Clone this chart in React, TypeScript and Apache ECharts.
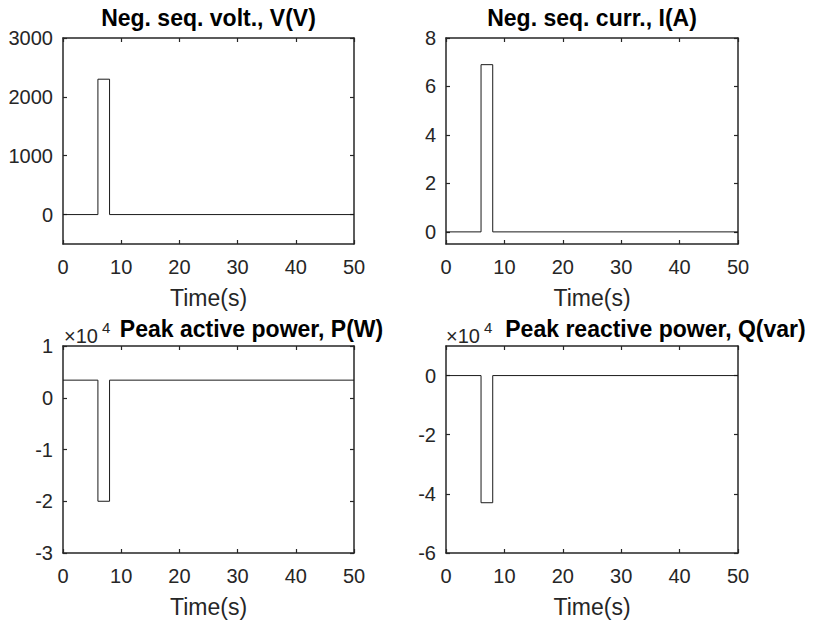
import React, { useEffect, useRef } from 'react';
import * as echarts from 'echarts';

// ---- data ----
const timeS = [0, 6, 6, 8, 8, 50];
const negSeqVolt = [0, 0, 2300, 2300, 0, 0];
const negSeqCurr = [0, 0, 6.9, 6.9, 0, 0];
const peakActiveP = [3400, 3400, -20000, -20000, 3400, 3400];
const peakReactiveQ = [0, 0, -43000, -43000, 0, 0];

const xTicks = [0, 10, 20, 30, 40, 50];
const voltTicks = [0, 1000, 2000, 3000];
const currTicks = [0, 2, 4, 6, 8];
const pTicks = [-30000, -20000, -10000, 0, 10000];
const qTicks = [-60000, -40000, -20000, 0];

const titles = [
  'Neg. seq. volt., V(V)',
  'Neg. seq. curr., I(A)',
  'Peak active power, P(W)',
  'Peak reactive power, Q(var)',
];
const xLabel = 'Time(s)';

const FONT = '"Liberation Sans", Arial, Helvetica, sans-serif';
const AX = '#262626';

const panels = [
  { grid: { left: 63, top: 38, width: 291, height: 206 }, values: negSeqVolt, yMin: -500, yMax: 3000, yTicks: voltTicks, div: 1, title: titles[0], tx: 208.5, ty: 18, exp: null as null | { x: number; y: number } },
  { grid: { left: 446, top: 38, width: 292, height: 206 }, values: negSeqCurr, yMin: -0.5, yMax: 8, yTicks: currTicks, div: 1, title: titles[1], tx: 592, ty: 18, exp: null },
  { grid: { left: 63, top: 346, width: 291, height: 207 }, values: peakActiveP, yMin: -30000, yMax: 10000, yTicks: pTicks, div: 10000, title: titles[2], tx: 251.5, ty: 329, exp: { x: 64, y: 336 } },
  { grid: { left: 446, top: 346, width: 292, height: 207 }, values: peakReactiveQ, yMin: -60000, yMax: 10000, yTicks: qTicks, div: 10000, title: titles[3], tx: 655.5, ty: 329, exp: { x: 446, y: 336 } },
];

function buildOption() {
  const grid: any[] = [];
  const xAxis: any[] = [];
  const yAxis: any[] = [];
  const series: any[] = [];
  const graphic: any[] = [];

  panels.forEach((p, i) => {
    grid.push({ ...p.grid, containLabel: false });
    const line = { show: true, onZero: false, lineStyle: { color: AX, width: 1.5 } };
    const tick = { show: true, inside: true, length: 4, lineStyle: { color: AX, width: 1.2 } };
    // bottom x
    xAxis.push({
      type: 'value', gridIndex: i, position: 'bottom', min: 0, max: 50, interval: 10,
      axisLine: line, axisTick: { ...tick, customValues: xTicks },
      axisLabel: { show: true, customValues: xTicks, margin: 13, fontSize: 20, color: AX, fontFamily: FONT },
      splitLine: { show: false },
      name: xLabel, nameLocation: 'middle', nameGap: 42,
      nameTextStyle: { fontSize: 23, color: AX, fontFamily: FONT },
    });
    // top x (box + mirrored ticks)
    xAxis.push({
      type: 'value', gridIndex: i, position: 'top', min: 0, max: 50, interval: 10,
      axisLine: line, axisTick: { ...tick, customValues: xTicks },
      axisLabel: { show: false }, splitLine: { show: false },
    });
    // left y
    yAxis.push({
      type: 'value', gridIndex: i, position: 'left', min: p.yMin, max: p.yMax,
      axisLine: line, axisTick: { ...tick, customValues: p.yTicks },
      axisLabel: {
        show: true, customValues: p.yTicks, margin: 10, fontSize: 20, color: AX, fontFamily: FONT,
        formatter: (v: number) => String(Math.round((v / p.div) * 1000) / 1000),
      },
      splitLine: { show: false },
    });
    // right y
    yAxis.push({
      type: 'value', gridIndex: i, position: 'right', min: p.yMin, max: p.yMax,
      axisLine: line, axisTick: { ...tick, customValues: p.yTicks },
      axisLabel: { show: false }, splitLine: { show: false },
    });
    series.push({
      type: 'line', xAxisIndex: 2 * i, yAxisIndex: 2 * i,
      data: timeS.map((t, k) => [t, p.values[k]]),
      symbol: 'none', showSymbol: false,
      lineStyle: { color: '#1a1a1a', width: 1 },
      silent: true,
    });
    graphic.push({
      type: 'text', x: p.tx, y: p.ty, silent: true,
      style: {
        text: p.title, fontSize: 23, fontWeight: 'bold', fontFamily: FONT, fill: '#000',
        align: 'center', verticalAlign: 'middle', textAlign: 'center', textVerticalAlign: 'middle',
      },
    });
    if (p.exp) {
      graphic.push({
        type: 'text', x: p.exp.x, y: p.exp.y, silent: true,
        style: {
          text: '×10', fontSize: 20, fontFamily: FONT, fill: AX,
          align: 'left', verticalAlign: 'middle', textAlign: 'left', textVerticalAlign: 'middle',
        },
      });
      graphic.push({
        type: 'text', x: p.exp.x + 38, y: p.exp.y - 9, silent: true,
        style: {
          text: '4', fontSize: 15, fontFamily: FONT, fill: AX,
          align: 'left', verticalAlign: 'middle', textAlign: 'left', textVerticalAlign: 'middle',
        },
      });
    }
  });

  return {
    animation: false,
    backgroundColor: '#ffffff',
    grid, xAxis, yAxis, series, graphic,
  };
}

export default function App() {
  const ref = useRef<HTMLDivElement>(null);
  useEffect(() => {
    const chart = echarts.init(ref.current!, null, { renderer: 'svg' });
    chart.setOption(buildOption() as any);
    return () => chart.dispose();
  }, []);
  return (
    <div
      ref={ref}
      style={{ position: 'absolute', left: 0, top: 0, width: 814, height: 621, background: '#fff' }}
    />
  );
}
